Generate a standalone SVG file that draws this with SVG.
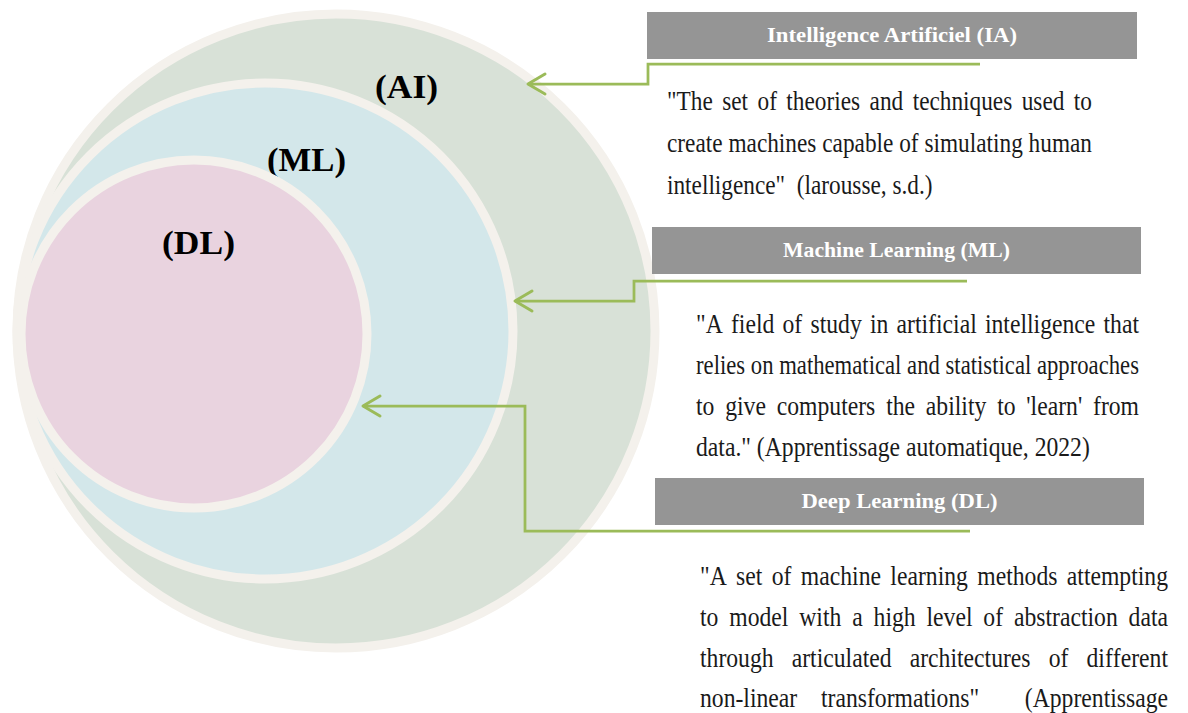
<svg xmlns="http://www.w3.org/2000/svg" width="1188" height="713" viewBox="0 0 1188 713">
<style>
.ring{stroke:#f4f1ec;stroke-width:9}
.lbl{font-family:"Liberation Serif","Times New Roman",serif;font-weight:bold;font-size:33px;fill:#000;text-anchor:middle}
.hdr{fill:#959595}
.htx{font-family:"Liberation Serif","Times New Roman",serif;font-weight:bold;font-size:20px;fill:#fff;text-anchor:middle}
.body{font-family:"Liberation Serif","Times New Roman",serif;font-size:23.66px;fill:#1a1a1a;font-kerning:none}
.con{fill:none;stroke:#9bbb59;stroke-width:2.75;stroke-linejoin:miter}
.head{fill:none;stroke:#9bbb59;stroke-width:3;stroke-linecap:round;stroke-linejoin:round}
</style>
<rect width="1188" height="713" fill="#fff"/>
<g id="circle-ai">
<ellipse class="ring" cx="336" cy="331" rx="319" ry="317" fill="#d8e1d7"/>
<text class="lbl" x="406.5" y="98" textLength="63" lengthAdjust="spacingAndGlyphs">(AI)</text>
</g>
<g id="circle-ml">
<ellipse class="ring" cx="265" cy="331" rx="248" ry="248" fill="#d3e7ea"/>
<text class="lbl" x="306.5" y="171" textLength="79" lengthAdjust="spacingAndGlyphs">(ML)</text>
</g>
<g id="circle-dl">
<ellipse class="ring" cx="194" cy="334" rx="173" ry="174" fill="#e9d3df"/>
<text class="lbl" x="198.5" y="254" textLength="73" lengthAdjust="spacingAndGlyphs">(DL)</text>
</g>
<g id="box-ai">
<rect class="hdr" x="647" y="12" width="490" height="47"/>
<text class="htx" x="892" y="42" textLength="250" lengthAdjust="spacingAndGlyphs">Intelligence Artificiel (IA)</text>
<text class="body" transform="translate(667 110) scale(1 1.2)" style="font-size:23.3px" word-spacing="3.61" textLength="425" lengthAdjust="spacing">"The set of theories and techniques used to</text>
<text class="body" transform="translate(667 152) scale(1 1.2)" style="font-size:23.3px" textLength="425" lengthAdjust="spacing">create machines capable of simulating human</text>
<text class="body" transform="translate(667 194) scale(1 1.2)" style="font-size:23.3px" xml:space="preserve">intelligence"  (larousse, s.d.)</text>
</g>
<g id="box-ml">
<rect class="hdr" x="652" y="227" width="489" height="47"/>
<text class="htx" x="896.5" y="257" textLength="227" lengthAdjust="spacingAndGlyphs">Machine Learning (ML)</text>
<text class="body" transform="translate(696 333) scale(1 1.1834)" word-spacing="2.29" textLength="443" lengthAdjust="spacing">"A field of study in artificial intelligence that</text>
<text class="body" transform="translate(696 374) scale(1 1.235)" style="font-size:22.67px" textLength="443" lengthAdjust="spacing">relies on mathematical and statistical approaches</text>
<text class="body" transform="translate(696 415) scale(1 1.1834)" word-spacing="4.9" textLength="443" lengthAdjust="spacing">to give computers the ability to 'learn' from</text>
<text class="body" transform="translate(696 456) scale(1 1.1834)">data." (Apprentissage automatique, 2022)</text>
</g>
<g id="box-dl">
<rect class="hdr" x="655" y="478" width="489" height="47"/>
<text class="htx" x="899.5" y="508" textLength="196" lengthAdjust="spacingAndGlyphs">Deep Learning (DL)</text>
<text class="body" transform="translate(700 585) scale(1 1.1834)" word-spacing="3.45" textLength="468" lengthAdjust="spacing">"A set of machine learning methods attempting</text>
<text class="body" transform="translate(700 626) scale(1 1.1834)" word-spacing="4.94" textLength="468" lengthAdjust="spacing">to model with a high level of abstraction data</text>
<text class="body" transform="translate(700 667) scale(1 1.1834)" word-spacing="12.2" textLength="468" lengthAdjust="spacing">through articulated architectures of different</text>
<text class="body" transform="translate(700 707) scale(1 1.1834)">non-linear</text>
<text class="body" transform="translate(821 707) scale(1 1.1834)">transformations"</text>
<text class="body" transform="translate(1168 707) scale(1 1.1834)" style="text-anchor:end">(Apprentissage</text>
</g>
<g id="connectors">
<polyline class="con" points="980,64 648,64 648,84 528,84"/>
<polyline class="head" points="545,74 528,84 545,94"/>
<polyline class="con" points="967,281 634,281 634,301 515,301"/>
<polyline class="head" points="532,291 515,301 532,311"/>
<polyline class="con" points="970,531 525,531 525,406 363,406"/>
<polyline class="head" points="380,396 363,406 380,416"/>
</g>
</svg>
